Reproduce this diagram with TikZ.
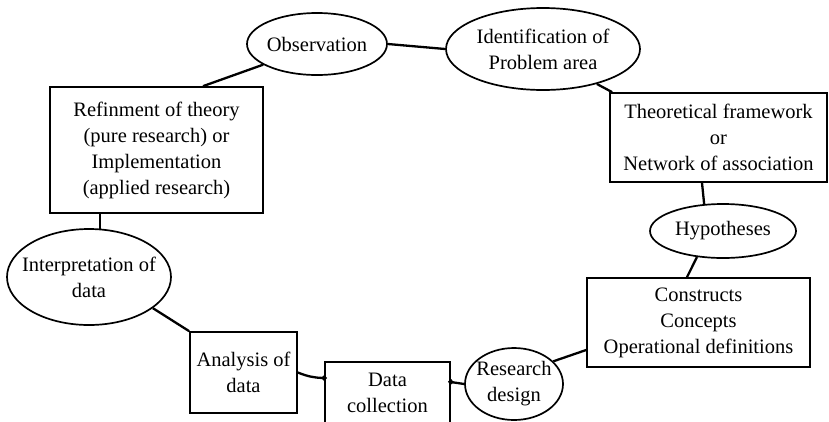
\documentclass[tikz,border=0pt]{standalone}
\usepackage{fontspec}
\setmainfont{Liberation Serif}
\usetikzlibrary{shapes.geometric,arrows.meta}

\begin{document}
\begin{tikzpicture}[x=1pt,y=-1pt,
  box/.style={draw,line width=1.7pt,align=center,inner sep=2pt,font=\fontsize{20.5}{26}\selectfont},
  oval/.style={draw,ellipse,line width=1.7pt,align=center,inner sep=-60pt,font=\fontsize{20.5}{26}\selectfont},
  link/.style={line width=2.3pt}]

\useasboundingbox (0,0) rectangle (829,421);
\clip (0,0) rectangle (829,421);

\node[oval,minimum width=140pt,minimum height=62pt] (obs) at (317,44) {Observation};
\node[oval,minimum width=194pt,minimum height=82pt] (ident) at (543,49) {Identification of\\Problem area};
\node[box,minimum width=217pt,minimum height=89pt] (theory) at (718.5,137.5) {Theoretical framework\\or\\Network of association};
\node[oval,minimum width=146pt,minimum height=54pt] (hyp) at (723,231) {Hypotheses};
\node[box,minimum width=223pt,minimum height=89pt] (cons) at (698.5,322.5) {Constructs\\Concepts\\Operational definitions};
\node[oval,minimum width=98pt,minimum height=72pt] (design) at (514,384) {Research\\design};
\node[box,minimum width=125pt,minimum height=62pt] (dcoll) at (387.5,393) {Data\\collection};
\node[box,minimum width=107pt,minimum height=81pt] (analysis) at (243.5,372.5) {Analysis of\\data};
\node[oval,minimum width=164pt,minimum height=96pt] (interp) at (89,277) {Interpretation of\\data};
\node[box,minimum width=213pt,minimum height=126pt] (refine) at (156.5,150) {Refinment of theory\\(pure research) or\\Implementation\\(applied research)};

\draw[link] (obs.east) -- (ident.west);
\draw[link] (ident.-33) -- ([xshift=3pt]theory.north west);
\draw[link] ([xshift=-16.5pt]theory.south) -- (hyp.125);
\draw[link] (hyp.225) -- ([xshift=-11.5pt]cons.north);
\draw[link] ([yshift=-27.5pt]cons.west) -- (design.30);
\draw[link,{Circle[length=5pt,sep=-2.5pt]}-] ([yshift=11pt]dcoll.east) -- (design.west);
\draw[link,{Circle[length=5pt,sep=-2.5pt]}-] ([yshift=15pt]dcoll.west) to[bend left=10] (analysis.east);
\draw[link] (analysis.north west) -- (interp.-26);
\draw[link] (interp.77) -- (interp.77 |- refine.south);
\draw[link] ([xshift=46.5pt]refine.north) -- (obs.201);
\end{tikzpicture}
\end{document}
